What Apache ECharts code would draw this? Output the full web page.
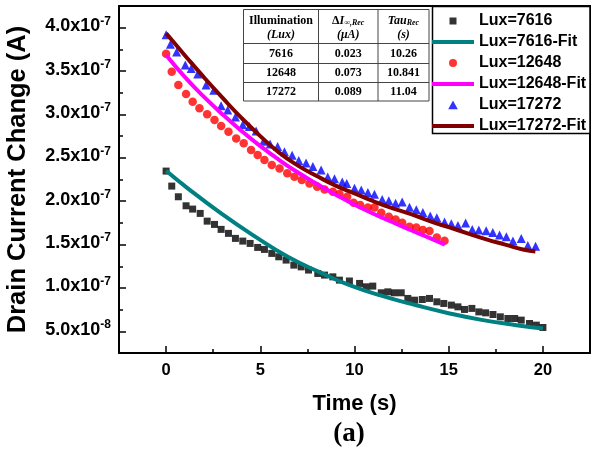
<!DOCTYPE html>
<html>
<head>
<meta charset="utf-8">
<script src="https://cdn.jsdelivr.net/npm/echarts@6/dist/echarts.min.js"></script>
<style>html,body{margin:0;padding:0;background:#fff}#c{width:597px;height:449px}</style>
</head>
<body>
<div id="c"></div>
<script>
// ---- data ----
const timeLux7616 = [0,0.30,0.65,1.06,1.41,1.81,2.18,2.57,2.92,3.31,3.68,4.07,4.46,4.86,5.22,5.61,5.98,6.37,6.78,7.17,7.56,8.05,8.41,8.85,9.20,9.73,10.27,10.62,10.97,11.42,11.77,12.12,12.48,12.83,13.19,13.60,13.98,14.37,14.74,15.14,15.49,15.84,16.23,16.60,16.96,17.35,17.74,18.14,18.50,18.85,19.29,19.65,20.00];
const curLux7616 = [2.347e-7,2.174e-7,2.051e-7,1.947e-7,1.909e-7,1.859e-7,1.770e-7,1.732e-7,1.675e-7,1.629e-7,1.571e-7,1.540e-7,1.513e-7,1.467e-7,1.444e-7,1.398e-7,1.359e-7,1.321e-7,1.263e-7,1.243e-7,1.206e-7,1.167e-7,1.148e-7,1.128e-7,1.090e-7,1.080e-7,1.052e-7,1.013e-7,1.021e-7,0.944e-7,0.955e-7,0.944e-7,0.944e-7,0.879e-7,0.859e-7,0.867e-7,0.879e-7,0.840e-7,0.821e-7,0.802e-7,0.782e-7,0.752e-7,0.764e-7,0.724e-7,0.713e-7,0.694e-7,0.667e-7,0.648e-7,0.648e-7,0.629e-7,0.590e-7,0.571e-7,0.544e-7];

const timeLux12648 = [0,0.30,0.65,1.06,1.41,1.77,2.18,2.57,2.92,3.31,3.72,4.12,4.51,4.86,5.22,5.61,6.02,6.43,6.81,7.20,7.61,8.02,8.41,8.85,9.20,9.61,9.95,10.30,10.71,11.06,11.42,11.82,12.18,12.53,12.92,13.28,13.63,13.98,14.37,14.78];
const curLux12648 = [3.700e-7,3.493e-7,3.339e-7,3.235e-7,3.146e-7,3.070e-7,3.001e-7,2.935e-7,2.866e-7,2.800e-7,2.724e-7,2.667e-7,2.589e-7,2.532e-7,2.474e-7,2.416e-7,2.378e-7,2.321e-7,2.282e-7,2.243e-7,2.205e-7,2.166e-7,2.136e-7,2.108e-7,2.082e-7,2.050e-7,1.982e-7,1.955e-7,1.928e-7,1.928e-7,1.866e-7,1.820e-7,1.790e-7,1.751e-7,1.705e-7,1.698e-7,1.667e-7,1.655e-7,1.582e-7,1.543e-7];

const timeLux17272 = [0,0.23,0.56,1.02,1.33,1.68,2.12,2.53,2.92,3.27,3.68,4.07,4.42,4.78,5.17,5.52,5.92,6.28,6.69,7.04,7.43,7.79,8.23,8.58,8.94,9.35,9.59,10.00,10.36,10.71,11.06,11.47,11.82,12.18,12.53,12.92,13.28,13.63,14.02,14.37,14.78,15.14,15.49,15.90,16.25,16.60,16.99,17.34,17.70,18.06,18.41,18.85,19.20,19.61];
const curLux17272 = [3.92e-7,3.81e-7,3.72e-7,3.57e-7,3.53e-7,3.466e-7,3.34e-7,3.28e-7,3.10e-7,3.05e-7,2.97e-7,2.88e-7,2.86e-7,2.81e-7,2.69e-7,2.66e-7,2.63e-7,2.57e-7,2.53e-7,2.47e-7,2.44e-7,2.40e-7,2.36e-7,2.28e-7,2.26e-7,2.22e-7,2.205e-7,2.15e-7,2.13e-7,2.10e-7,2.08e-7,2.02e-7,2.005e-7,1.975e-7,1.99e-7,1.93e-7,1.90e-7,1.87e-7,1.83e-7,1.81e-7,1.76e-7,1.74e-7,1.72e-7,1.75e-7,1.675e-7,1.667e-7,1.66e-7,1.64e-7,1.61e-7,1.59e-7,1.54e-7,1.57e-7,1.49e-7,1.48e-7];

const fitTime7616 = [0,1.15,2.92,4.69,6.46,8.23,9.74,11.51,13.28,15.05,16.82,18.59,20];
const fitCur7616 = [2.35e-7,2.148e-7,1.859e-7,1.597e-7,1.359e-7,1.174e-7,1.032e-7,0.905e-7,0.80e-7,0.706e-7,0.629e-7,0.571e-7,0.533e-7];

const fitTime12648 = [0,1,2,3,4,5,6,7,8,9,10,11,12,13,14,14.8];
const fitCur12648 = [3.685e-7,3.43e-7,3.205e-7,3.00e-7,2.81e-7,2.635e-7,2.475e-7,2.33e-7,2.20e-7,2.075e-7,1.96e-7,1.855e-7,1.76e-7,1.665e-7,1.575e-7,1.50e-7];

const fitTime17272 = [0,1,2,3,4,5,6,7,8,9,10,11,12,13,14,15,16,17,18,19,19.6];
const fitCur17272 = [3.935e-7,3.68e-7,3.43e-7,3.19e-7,2.96e-7,2.75e-7,2.56e-7,2.41e-7,2.29e-7,2.18e-7,2.09e-7,2.00e-7,1.92e-7,1.85e-7,1.77e-7,1.70e-7,1.63e-7,1.56e-7,1.50e-7,1.44e-7,1.42e-7];

const seriesNames = ['Lux=7616','Lux=7616-Fit','Lux=12648','Lux=12648-Fit','Lux=17272','Lux=17272-Fit'];
const xMajorTicks = [0,5,10,15,20];
const yMajorTicks = [0.5e-7,1.0e-7,1.5e-7,2.0e-7,2.5e-7,3.0e-7,3.5e-7,4.0e-7];

const tableIllum = ['7616','12648','17272'];
const tableDeltaI = ['0.023','0.073','0.089'];
const tableTau = ['10.26','10.841','11.04'];

// ---- helpers ----
function zip(t, v){ return t.map((x,i)=>[x, v[i]]); }
function isMult(v, step){ const r = v/step; return Math.abs(r-Math.round(r)) < 1e-6; }
function fmtY(v){
  if (!isMult(v, 0.5e-7) || v < 0.4e-7 || v > 4.1e-7) return '';
  let exp = -7, m = v/1e-7;
  if (m < 0.999) { exp = -8; m = v/1e-8; }
  return '{a|' + m.toFixed(1) + 'x10}{b|' + exp + '}';
}
function fmtX(v){
  if (!isMult(v, 5) || v < -0.1 || v > 20.1) return '';
  return String(Math.round(v));
}

const SANS = 'Liberation Sans, Arial, sans-serif';
const SERIF = 'Liberation Serif, Times New Roman, serif';

// legend icons (42x10 box, shape placed in the middle)
const BOX = 'M0,0L0.01,0L0,0.01Z M42,10L41.99,10L42,9.99Z ';
const iconSquare = 'path://' + BOX + 'M17.5,1.5L24.5,1.5L24.5,8.5L17.5,8.5Z';
const iconCircle = 'path://' + BOX + 'M25,5A4,4,0,1,1,17,5A4,4,0,1,1,25,5Z';
const iconTriangle = 'path://' + BOX + 'M21,0.5L25.8,9.3L16.2,9.3Z';
const iconLine = 'path://' + BOX + 'M0,3L42,3L42,7L0,7Z';
const legendIcons = [iconSquare, iconLine, iconCircle, iconLine, iconTriangle, iconLine];

const chart = echarts.init(document.getElementById('c'), null, {renderer:'canvas'});

// table geometry
const tX = [243.5, 318.5, 378, 429];
const tY = [9.5, 43.5, 63.5, 82.5, 101];
const tableEls = [];
tableEls.push({type:'rect', shape:{x:tX[0], y:tY[0], width:tX[3]-tX[0], height:tY[4]-tY[0]}, style:{fill:'#fff', stroke:'#444', lineWidth:1}});
for (let i=1;i<4;i++) tableEls.push({type:'line', shape:{x1:tX[0], y1:tY[i], x2:tX[3], y2:tY[i]}, style:{stroke:'#444', lineWidth:1}});
for (let i=1;i<3;i++) tableEls.push({type:'line', shape:{x1:tX[i], y1:tY[0], x2:tX[i], y2:tY[4]}, style:{stroke:'#444', lineWidth:1}});
const cx = [(tX[0]+tX[1])/2, (tX[1]+tX[2])/2, (tX[2]+tX[3])/2];
function tText(x, y, text, rich){
  return {type:'text', x:x, y:y, style:{text:text, align:'center', verticalAlign:'middle', fill:'#000', font:'bold 12px ' + SERIF, rich: rich}};
}
const headRich = {
  m:{fontFamily:SERIF, fontSize:12, fontWeight:'bold', fontStyle:'normal', lineHeight:14, verticalAlign:'bottom'},
  i:{fontFamily:SERIF, fontSize:12, fontWeight:'bold', fontStyle:'italic', lineHeight:14, verticalAlign:'bottom'},
  s:{fontFamily:SERIF, fontSize:8, fontWeight:'bold', fontStyle:'italic', lineHeight:9, verticalAlign:'bottom'}
};
tableEls.push(tText(cx[0], 20, '{m|Illumination}', headRich));
tableEls.push(tText(cx[0], 34, '{i|(Lux)}', headRich));
tableEls.push(tText(cx[1], 20, '{m|Δ}{i|I}{s|∞,Rec}', headRich));
tableEls.push(tText(cx[1], 34, '{i|(μA)}', headRich));
tableEls.push(tText(cx[2], 20, '{i|Tau}{s|Rec}', headRich));
tableEls.push(tText(cx[2], 34, '{i|(s)}', headRich));
const rowY = [53.5, 73, 92];
for (let r=0;r<3;r++){
  tableEls.push(tText(cx[0], rowY[r], tableIllum[r]));
  tableEls.push(tText(cx[1], rowY[r], tableDeltaI[r]));
  tableEls.push(tText(cx[2], rowY[r], tableTau[r]));
}

const option = {
  backgroundColor:'#fff',
  animation:false,
  grid:{left:119, right:7, top:6, bottom:96, show:true, borderColor:'#000', borderWidth:2, backgroundColor:'transparent', outerBoundsMode:'none'},
  legend:{
    orient:'vertical', left:432, top:13, padding:0,
    itemWidth:42, itemHeight:10, itemGap:5,
    data:seriesNames.map((n,i)=>({name:n, icon:legendIcons[i]})),
    textStyle:{color:'#000', fontSize:16, fontWeight:'bold', fontFamily:SANS},
    z:6
  },
  xAxis:[{
    type:'value', min:-2.5, max:22.5, interval:2.5,
    splitLine:{show:false},
    axisLine:{show:true, onZero:false, lineStyle:{color:'#000', width:2}},
    axisTick:{show:true, inside:true, length:4, lineStyle:{color:'#000', width:1.5}},
    axisLabel:{formatter:fmtX, margin:9, color:'#000', fontSize:16.5, fontWeight:'bold', fontFamily:SANS, showMinLabel:true, showMaxLabel:true},
    name:'Time (s)', nameLocation:'middle', nameGap:40,
    nameTextStyle:{color:'#000', fontSize:22, fontWeight:'bold', fontFamily:SANS}
  },{
    type:'value', min:-2.5, max:22.5, position:'bottom',
    splitLine:{show:false},
    axisLine:{show:false, onZero:false},
    axisTick:{show:true, inside:true, length:7, customValues:xMajorTicks, lineStyle:{color:'#000', width:1.5}},
    axisLabel:{show:false}
  }],
  yAxis:[{
    type:'value', min:0.25e-7, max:4.25e-7, interval:0.25e-7,
    splitLine:{show:false},
    axisLine:{show:true, onZero:false, lineStyle:{color:'#000', width:2}},
    axisTick:{show:true, inside:true, length:4, lineStyle:{color:'#000', width:1.5}},
    axisLabel:{formatter:fmtY, margin:8, color:'#000', padding:[0,0,5,0],
      rich:{
        a:{fontSize:18, fontWeight:'bold', fontFamily:SANS, color:'#000', lineHeight:20, verticalAlign:'bottom'},
        b:{fontSize:12, fontWeight:'bold', fontFamily:SANS, color:'#000', lineHeight:14, verticalAlign:'top'}
      }},
    name:'Drain Current Change (A)', nameLocation:'middle', nameGap:88, nameRotate:90,
    nameTextStyle:{color:'#000', fontSize:25.5, fontWeight:'bold', fontFamily:SANS}
  },{
    type:'value', min:0.25e-7, max:4.25e-7, position:'left',
    splitLine:{show:false},
    axisLine:{show:false, onZero:false},
    axisTick:{show:true, inside:true, length:7, customValues:yMajorTicks, lineStyle:{color:'#000', width:1.5}},
    axisLabel:{show:false}
  }],
  graphic:[
    {type:'rect', shape:{x:432.5, y:6.5, width:157.5, height:127}, style:{fill:'#fff', stroke:'#000', lineWidth:1.5}, z:5},
    {type:'group', children:tableEls, z:5},
    {type:'text', x:349, y:434, style:{text:'(a)', align:'center', verticalAlign:'middle', fill:'#000', font:'bold 27px ' + SERIF}}
  ],
  series:[
    {name:seriesNames[0], type:'scatter', data:zip(timeLux7616, curLux7616), symbol:'rect', symbolSize:7, itemStyle:{color:'#000'}},
    {name:seriesNames[1], type:'line', data:zip(fitTime7616, fitCur7616), smooth:true, symbol:'none', lineStyle:{color:'#008080', width:4}, itemStyle:{color:'#008080'}},
    {name:seriesNames[2], type:'scatter', data:zip(timeLux12648, curLux12648), symbol:'circle', symbolSize:8.5, itemStyle:{color:'#ff0000'}},
    {name:seriesNames[3], type:'line', data:zip(fitTime12648, fitCur12648), smooth:true, symbol:'none', lineStyle:{color:'#ff00ff', width:4}, itemStyle:{color:'#ff00ff'}},
    {name:seriesNames[4], type:'scatter', data:zip(timeLux17272, curLux17272), symbol:'triangle', symbolSize:9, itemStyle:{color:'#0000ff'}},
    {name:seriesNames[5], type:'line', data:zip(fitTime17272, fitCur17272), smooth:true, symbol:'none', lineStyle:{color:'#800000', width:4}, itemStyle:{color:'#800000'}}
  ]
};
chart.setOption(option);
</script>
</body>
</html>
